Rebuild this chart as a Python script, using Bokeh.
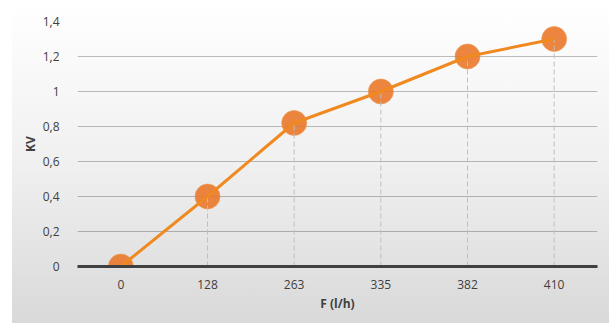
from bokeh.plotting import figure
from bokeh.models import Range1d, FixedTicker, CustomJSTickFormatter, ColumnDataSource
from bokeh.embed import file_html
from bokeh.resources import INLINE

categories = ["0", "128", "263", "335", "382", "410"]
kv_values = [0, 0.4, 0.82, 1.0, 1.2, 1.3]
y_ticks = [0, 0.2, 0.4, 0.6, 0.8, 1.0, 1.2, 1.4]
x_label = "F (l/h)"
y_label = "KV"

src = ColumnDataSource(dict(x=categories, y=kv_values, y0=[0] * len(categories)))

p = figure(width=609, height=323, x_range=categories, y_range=Range1d(0, 1.4),
           output_backend="svg", toolbar_location=None,
           min_border_left=77, min_border_right=12, min_border_top=21, min_border_bottom=57)

p.styles = {
    "background-image": "linear-gradient(to bottom, #ffffff 0%, #f0f0f0 50%, #d9d9d9 100%)",
    "background-position": "12px 4px",
    "background-size": "calc(100% - 12px) calc(100% - 4px)",
    "background-repeat": "no-repeat",
}
p.background_fill_alpha = 0
p.border_fill_alpha = 0
p.outline_line_color = None

# grid
p.xgrid.grid_line_color = None
p.ygrid.grid_line_color = "black"
p.ygrid.grid_line_alpha = 0.25
p.ygrid.grid_line_width = 1

# axes
p.yaxis.ticker = FixedTicker(ticks=y_ticks)
p.yaxis.formatter = CustomJSTickFormatter(code="return (Math.round(tick*10)/10).toString().replace('.', ',');")
for ax in (p.xaxis[0], p.yaxis[0]):
    ax.major_tick_line_color = None
    ax.minor_tick_line_color = None
    ax.major_label_text_font = "Open Sans"
    ax.major_label_text_font_size = "12px"
    ax.major_label_text_color = "#404040"
    ax.axis_label_text_font = "Open Sans"
    ax.axis_label_text_font_size = "12px"
    ax.axis_label_text_font_style = "bold"
    ax.axis_label_text_color = "#404040"
p.yaxis.axis_line_color = None
p.yaxis.major_label_standoff = 12
p.yaxis.axis_label = y_label
p.yaxis.axis_label_standoff = 1
p.xaxis.axis_line_color = "#404040"
p.xaxis.axis_line_width = 3
p.xaxis.major_label_standoff = 7
p.xaxis.axis_label = x_label
p.xaxis.axis_label_standoff = 3

# markers (semi-transparent, lines show through)
p.scatter(x="x", y="y", source=src, size=25, fill_color="#E9782A", fill_alpha=0.9,
          line_color="#F29A50", line_alpha=0.6, line_width=1)
# drop lines
p.segment(x0="x", y0="y0", x1="x", y1="y", source=src,
          line_color="#bfbfbf", line_width=1, line_dash="5 3")
# series
p.line(x="x", y="y", source=src, line_color="#F0891F", line_width=3)

open("out.html", "w").write(file_html(p, INLINE))
